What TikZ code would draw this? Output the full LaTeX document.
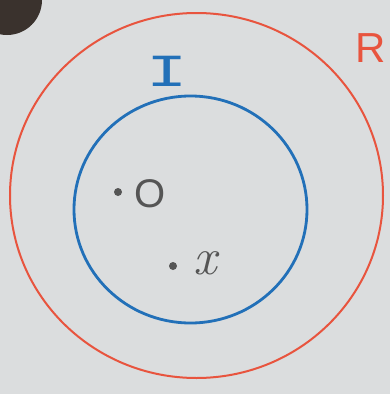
\documentclass[tikz,border=0pt]{standalone}
\usepackage{fontspec}
\newfontfamily\hand{Liberation Sans}
\newfontfamily\handmono{Liberation Mono}
\definecolor{paper}{RGB}{219,221,222}
\definecolor{blob}{RGB}{58,50,45}
\definecolor{redpen}{RGB}{232,84,62}
\definecolor{bluepen}{RGB}{34,112,184}
\definecolor{pencil}{RGB}{85,85,85}
\tikzset{
  redring/.style={draw=redpen, line width=2pt},
  bluering/.style={draw=bluepen, line width=2.8pt},
  pdot/.style={circle, fill=pencil, inner sep=0pt, minimum size=8pt},
  lbl/.style={inner sep=0pt, anchor=center},
}
\begin{document}
\begin{tikzpicture}[x=1pt,y=-1pt]
\useasboundingbox (0,0) rectangle (390,394);
\begin{scope}
\clip (0,0) rectangle (390,394);
\fill[paper] (0,0) rectangle (390,394);
\fill[blob] (7,0) circle[radius=35pt];
\end{scope}
\draw[redring] (196.5,195.5) ellipse[x radius=186.5pt, y radius=182.5pt];
\draw[bluering] (190.5,209.5) ellipse[x radius=116.5pt, y radius=113.5pt];
\node[lbl, text=redpen, font=\hand\fontsize{42}{42}\selectfont] (R) at (371,48) {R};
\node[lbl, text=bluepen, font=\handmono\fontsize{46}{46}\selectfont, xscale=1.5] (I) at (167,71) {I};
\node[pdot] (dO) at (118,192) {};
\node[lbl, text=pencil, font=\hand\fontsize{40}{40}\selectfont] (O) at (150,194) {O};
\node[pdot] (dx) at (173,266) {};
\node[lbl, text=pencil, font=\fontsize{52}{52}\selectfont\itshape] (x) at (205,263) {x};
\end{tikzpicture}
\end{document}
